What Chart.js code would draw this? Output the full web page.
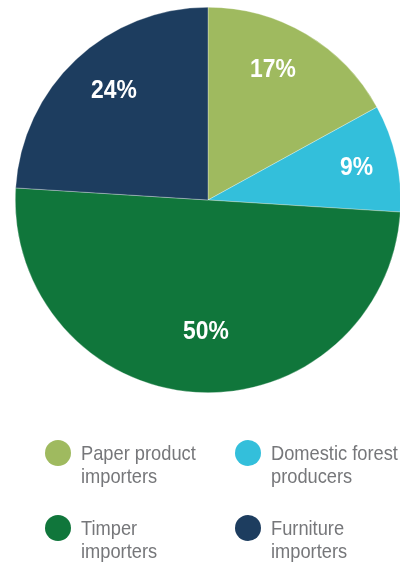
<!DOCTYPE html>
<html>
<head>
<meta charset="utf-8">
<script src="https://cdn.jsdelivr.net/npm/chart.js@4.4.1/dist/chart.umd.min.js"></script>
<style>
  html, body { margin: 0; padding: 0; background: #fff; }
  body { width: 400px; height: 565px; overflow: hidden; position: relative; }
  #wrap { position: absolute; left: 0; top: 0; width: 416px; height: 400px; }
  #legend { position: absolute; left: 0; top: 0; width: 400px; height: 565px; pointer-events: none; }
  .item { position: absolute; display: flex; align-items: flex-start; }
  .dot { width: 26px; height: 26px; border-radius: 50%; flex: none; }
  .txt { font-family: "Liberation Sans", Arial, sans-serif; font-size: 21px; line-height: 23px; color: #76777a; margin-left: 10px; margin-top: 1px; white-space: nowrap; transform: scaleX(0.87); transform-origin: 0 0; }
</style>
</head>
<body>
<div id="wrap"><canvas id="c" width="416" height="400"></canvas></div>
<div id="legend"></div>
<script>
const categories = ["Paper product importers", "Domestic forest producers", "Timper importers", "Furniture importers"];
const legendLines = [["Paper product", "importers"], ["Domestic forest", "producers"], ["Timper", "importers"], ["Furniture", "importers"]];
const values = [17, 9, 50, 24];
const colors = ["#9fba5f", "#33bfdb", "#10763b", "#1d3d5f"];

// label placement tuning (fraction of radius, fraction of slice angle)
const labelRadius = [0.76, 0.79, 0.68, 0.75];
const labelAngleFrac = [0.43, 0.5, 0.485, 0.53];

const labelPlugin = {
  id: 'sliceLabels',
  afterDatasetsDraw(chart) {
    const ctx = chart.ctx;
    const meta = chart.getDatasetMeta(0);
    meta.data.forEach((arc, i) => {
      const p = arc.getProps(['x', 'y', 'startAngle', 'endAngle', 'outerRadius'], true);
      const a = p.startAngle + (p.endAngle - p.startAngle) * labelAngleFrac[i];
      const r = p.outerRadius * labelRadius[i];
      const lx = p.x + Math.cos(a) * r, ly = p.y + Math.sin(a) * r + 1;
      ctx.save();
      ctx.fillStyle = '#ffffff';
      ctx.font = 'bold 26px "Liberation Sans", Arial, sans-serif';
      ctx.textAlign = 'center';
      ctx.textBaseline = 'middle';
      ctx.translate(lx, ly);
      ctx.scale(0.88, 1);
      ctx.fillText(values[i] + '%', 0, 0);
      ctx.restore();
    });
  }
};

new Chart(document.getElementById('c'), {
  type: 'pie',
  data: {
    labels: categories,
    datasets: [{
      data: values,
      backgroundColor: colors,
      borderColor: 'rgba(255,255,255,0.6)',
      borderWidth: 0.5
    }]
  },
  options: {
    responsive: false,
    animation: false,
    layout: { padding: 7 },
    plugins: { legend: { display: false }, tooltip: { enabled: false } }
  },
  plugins: [labelPlugin]
});

// HTML legend built from the data arrays
const legend = document.getElementById('legend');
const pos = [[45, 440], [235, 440], [45, 515], [235, 515]];
categories.forEach((c, i) => {
  const it = document.createElement('div');
  it.className = 'item';
  it.style.left = pos[i][0] + 'px';
  it.style.top = pos[i][1] + 'px';
  const d = document.createElement('div');
  d.className = 'dot';
  d.style.background = colors[i];
  const t = document.createElement('div');
  t.className = 'txt';
  t.innerHTML = legendLines[i].join('<br>');
  it.appendChild(d); it.appendChild(t);
  legend.appendChild(it);
});
</script>
</body>
</html>
